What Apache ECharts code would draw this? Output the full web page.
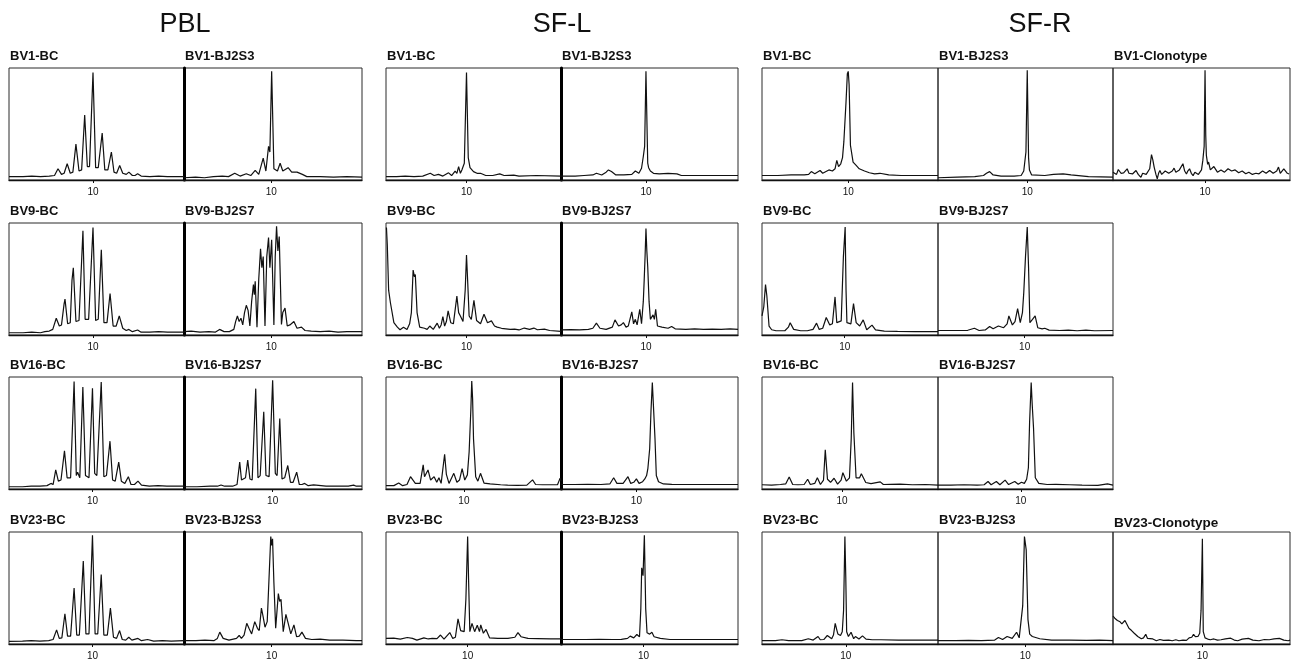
<!DOCTYPE html>
<html><head><meta charset="utf-8">
<script src="https://cdn.jsdelivr.net/npm/echarts@6/dist/echarts.min.js"></script>
<style>html,body{margin:0;padding:0;background:#fff}#c{width:1297px;height:666px}</style>
</head><body><div id="c"></div>
<script>
// ---------- DATA (x: CDR3 length units, y: % of panel height) ----------
const groupTitles = ['PBL', 'SF-L', 'SF-R'];
const labelsBC = ['BV1-BC', 'BV9-BC', 'BV16-BC', 'BV23-BC'];
const labelsBJ = ['BV1-BJ2S3', 'BV9-BJ2S7', 'BV16-BJ2S7', 'BV23-BJ2S3'];
const labelsClono = ['BV1-Clonotype', 'BV23-Clonotype'];
const tickValues = [10];
const tickLabels = ['10'];

// Row 1 (BV1)
const PBL_BV1_BC = [[0.4,3],[2,3],[3,3.5],[4,3],[5,3.5],[5.6,4],[6,10],[6.4,5],[6.7,6],[7.05,14.5],[7.4,6],[7.7,7],[8.05,32],[8.4,8],[8.7,9],[9.05,58],[9.35,12],[9.6,12],[10.0,96],[10.3,11],[10.6,11],[11.05,42],[11.35,9],[11.7,9],[12.1,25],[12.4,7],[12.7,6],[13.05,13],[13.4,6],[13.8,5],[14.1,7],[14.5,4],[14.8,4],[15.1,5.5],[15.5,3.5],[16.5,3],[17.5,3.5],[18.5,3],[20.4,3]];
const PBL_BV1_BJ = [[0.2,2],[1.5,2.5],[2.5,2],[3.5,3],[4.5,3.5],[5.2,3],[5.9,6],[6.5,3.5],[7.2,5.6],[7.7,4],[8.2,8.6],[8.6,5],[9.1,19.5],[9.4,8],[9.7,30],[9.85,25],[10.05,97],[10.3,10],[10.5,9],[10.7,8],[11.0,15],[11.3,8],[11.9,11],[12.3,7],[12.9,7],[13.5,5],[14.0,3],[15.5,3],[17,2.5],[18.5,3],[20.2,2.5]];
const SFL_BV1_BC = [[0.8,3],[2,3],[3,3.5],[4,3],[5,3.5],[5.86,6],[6.3,4],[6.8,5],[7.3,3.5],[7.95,6.4],[8.3,4],[8.7,8],[8.9,6],[9.1,12],[9.3,6],[9.47,9],[9.75,15],[10.0,96],[10.2,20],[10.4,11],[10.8,7.5],[11.2,6],[11.6,6],[12.2,4],[13,4],[13.8,5.5],[14.3,4],[15.4,4.4],[16,3.5],[18,4],[20.8,3.5]];
const SFL_BV1_BJ = [[0.4,3.5],[2,3.5],[3,4],[4,4.5],[4.4,6],[5,4.5],[5.5,7],[5.76,9],[6.1,7.5],[6.6,4.5],[7.5,4.5],[8.4,5],[8.8,8],[9.2,6],[9.5,10.5],[9.7,21],[9.85,30],[10.0,97],[10.2,15],[10.3,11],[10.5,8],[10.85,6],[11.5,5.5],[12.5,6],[13.5,5.5],[14,4],[20.4,4]];
const SFR_BV1_BC = [[0.2,4],[2,4],[3.5,4.5],[5,4.5],[5.5,5],[5.8,7.5],[6.2,5.5],[6.8,8.5],[7.1,6],[7.8,9],[8.2,8],[8.5,10],[8.7,17.5],[8.9,12],[9.15,14.5],[9.35,20],[9.5,34],[9.75,70],[9.9,95],[10.0,97],[10.1,85],[10.25,31],[10.55,16],[10.9,13],[11.25,10],[11.85,8],[12.4,6.5],[13,5.5],[13.6,6],[14.6,4.5],[16,4],[18,4],[20.2,4]];
const SFR_BV1_BJ = [[-0.2,2],[2,2.5],[4,3],[5,4],[5.34,6],[5.7,7.5],[6.1,4.5],[7,3.5],[8.5,3.5],[9.3,4],[9.6,8],[9.85,25],[10.0,98],[10.15,20],[10.25,9],[10.5,4.5],[12,4],[13,5],[14.1,5.5],[15,4.5],[17,3],[19.8,2.5]];
const SFR_BV1_CLONO = [[-0.4,7],[-0.2,7],[0.0,5],[0.2,9.4],[0.5,6],[0.8,6.3],[1.0,8],[1.2,10],[1.4,6],[1.6,7.5],[1.8,5.4],[2.0,7],[2.2,8.5],[2.45,5],[2.75,2.4],[2.95,6],[3.15,7],[3.35,5],[3.55,3.9],[3.75,10],[3.95,22.7],[4.1,18],[4.25,11.5],[4.45,5],[4.6,1],[4.75,6],[4.9,8.5],[5.1,5],[5.3,4.5],[5.5,8],[5.7,9.4],[5.9,6],[6.1,5.4],[6.3,8],[6.5,10.6],[6.7,7],[6.9,7],[7.1,9],[7.3,8],[7.5,14.5],[7.7,8],[7.9,5.4],[8.05,8],[8.25,10],[8.45,6],[8.65,3.9],[8.85,7],[9.05,7.6],[9.25,5],[9.45,5.4],[9.6,9],[9.75,17.5],[9.9,30],[10.0,98],[10.08,40],[10.15,22],[10.3,14],[10.4,16],[10.6,9],[10.8,8.5],[11.0,12],[11.2,11.5],[11.4,7],[11.6,5.4],[11.8,9],[12.0,10.6],[12.2,7],[12.4,7],[12.6,10],[12.8,11.5],[13.0,8],[13.2,7.6],[13.4,9],[13.6,10],[13.8,6.5],[14.0,5.4],[14.2,8],[14.4,8.5],[14.6,5.5],[14.75,4.5],[14.95,7],[15.15,7],[15.35,5],[15.55,3.9],[15.75,6],[15.95,7.6],[16.1,5.5],[16.3,5.4],[16.5,8],[16.7,9.4],[16.9,6],[17.1,6.3],[17.3,8.5],[17.5,8.5],[17.7,6],[17.9,5.4],[18.1,8],[18.3,11.5],[18.5,6],[18.7,7],[18.9,10],[19.1,10.6],[19.3,6],[19.5,5.4]];

// Row 2 (BV9)
const PBL_BV9_BC = [[0.4,2],[2,2],[3,2.5],[4,2],[4.5,3],[5,3.5],[5.4,5],[5.8,15],[6.15,8],[6.4,9],[6.7,28],[6.8,32],[7.1,10],[7.4,11],[7.6,49],[7.75,60],[8.05,12],[8.4,13],[8.85,93],[9.1,14],[9.5,14],[10.0,96],[10.3,13],[10.6,14],[10.95,76],[11.25,11],[11.6,11],[11.95,37],[12.3,8],[12.65,8],[13.0,17],[13.4,6],[13.8,4],[14.1,5],[14.5,3],[15.1,4.5],[15.5,2.5],[16.5,2.5],[17.5,3],[18.5,2.5],[20.4,2.5]];
const PBL_BV9_BJ = [[0.2,3],[1,3.5],[2,2.5],[3,3],[3.7,2.5],[4.2,5],[4.7,3],[5.3,3],[5.8,5],[6.0,12],[6.2,17],[6.4,12],[6.6,15],[6.8,9],[7.0,20],[7.2,26.5],[7.4,22],[7.6,8],[7.8,30],[8.0,45],[8.1,36],[8.2,48],[8.4,7],[8.6,50],[8.8,77],[8.95,60],[9.1,70],[9.3,8],[9.5,70],[9.7,87],[9.85,60],[10.05,85],[10.3,9],[10.45,70],[10.6,97],[10.75,75],[10.9,88],[11.15,9.5],[11.3,20],[11.55,24],[11.8,8],[12.1,9],[12.55,12],[12.9,6],[13.4,7],[13.8,4],[14.5,3.5],[15.5,3],[16.5,3.5],[17.5,2.5],[18.5,3],[20.2,3]];
const SFL_BV9_BC = [[0.85,96],[0.95,80],[1.1,40],[1.3,29],[1.7,11],[2.1,7],[2.4,4.7],[2.8,7],[3.2,5],[3.5,10],[3.7,20],[3.9,58],[4.05,52],[4.15,54],[4.35,20],[4.65,7],[5.2,6],[5.5,5],[5.8,8],[6.2,5],[6.65,10.6],[6.9,6],[7.1,9],[7.3,16.5],[7.5,8],[7.7,12],[7.9,21.5],[8.2,11],[8.5,10],[8.9,34.7],[9.1,20],[9.3,17],[9.6,12],[9.85,40],[10.0,71.5],[10.15,45],[10.3,17],[10.55,14],[10.85,31],[11.15,13],[11.6,10],[12.0,18.5],[12.4,11],[12.85,12.6],[13.2,8],[13.5,7],[14,6],[15,5],[15.5,5.3],[16,4.5],[16.6,6.2],[17.2,5],[17.7,6.2],[18.1,4.7],[18.9,5.3],[19.5,4],[20.8,3.2]];
const SFL_BV9_BJ = [[0.4,4.5],[1.5,4.8],[2.5,4.5],[3.5,5],[4.0,6],[4.4,10.6],[4.8,6],[5.5,5],[6.2,7],[6.5,13.5],[6.9,8],[7.2,9],[7.45,11],[7.75,7],[8.0,8],[8.4,20.6],[8.6,10],[8.8,14],[9.0,9],[9.3,23],[9.5,10],[9.7,30],[9.8,49],[9.9,70],[10.0,95],[10.1,75],[10.2,61],[10.35,30],[10.5,14],[10.8,18],[10.95,14],[11.1,23],[11.3,8],[11.8,7],[12.5,6],[12.9,7.6],[13.3,5.5],[14.5,5],[15.5,5.5],[16.5,5],[17.5,5.3],[18.5,5],[19.5,5.5],[20.4,5]];
const SFR_BV9_BC = [[0.6,17],[0.8,25],[1.0,45],[1.15,35],[1.4,8],[1.7,4.7],[2.2,3.8],[3.2,3.8],[3.6,7],[3.8,11],[4.2,5],[5,3.8],[5.75,3.8],[6.4,5],[6.8,10.6],[7.1,5],[7.5,6],[7.9,15.6],[8.3,9],[8.6,10],[8.9,34],[9.1,11],[9.6,12.6],[9.85,70],[10.05,96.5],[10.15,40],[10.25,11],[10.7,10],[11.0,28],[11.3,11],[11.7,8],[12.1,13.5],[12.5,4.7],[13.1,8.8],[13.5,4.5],[14.5,3.5],[16,3.2],[18,3],[20.6,3]];
const SFR_BV9_BJ = [[0.1,4],[2,4],[3.5,4.2],[4.26,6],[4.8,4],[5.5,4.5],[6.0,7.6],[6.4,5.5],[7.0,8],[7.6,6.5],[8.0,10],[8.2,17],[8.6,9],[8.9,12],[9.2,23.5],[9.5,11],[9.75,20],[9.9,37.6],[10.1,70],[10.3,96.5],[10.45,60],[10.6,11],[10.9,14],[11.2,17],[11.5,6.5],[12.0,5.5],[12.3,6],[12.8,4.4],[14,4],[15,4.4],[16,3.8],[17,4.4],[18,3.8],[20.1,4]];

// Row 3 (BV16)
const PBL_BV16_BC = [[0.46,2],[2,2],[3,2.5],[4,2.5],[4.8,3],[5.25,5],[5.5,4],[5.8,17],[6.1,7],[6.4,8],[6.8,34],[7.1,10],[7.5,10],[7.9,96],[8.15,12],[8.3,15],[8.55,10],[8.9,91],[9.2,12],[9.6,10],[10.0,90],[10.25,14],[10.5,12],[11.0,95.5],[11.3,11],[11.6,12],[12.0,42.7],[12.3,8],[12.6,7],[13.0,24],[13.3,7],[13.7,5],[14.1,11],[14.4,4],[14.8,4],[15.2,7],[15.6,3.5],[16.5,2.5],[17.5,3],[18.5,2.5],[20.46,2.5]];
const PBL_BV16_BJ = [[0.04,2],[1.5,2],[3,2.5],[3.8,2.5],[4.2,3.6],[4.6,2.5],[5.5,2.5],[6.0,4],[6.3,24],[6.5,8],[6.7,7],[6.95,10],[7.2,25.8],[7.45,9],[7.7,8],[8.1,89.6],[8.35,10],[8.6,12],[9.0,69],[9.25,12],[9.6,11],[10.0,97],[10.3,14],[10.5,12],[10.8,63],[11.05,9],[11.35,10],[11.7,21],[12.0,6],[12.3,6],[12.7,15],[13.0,4],[13.3,4],[13.6,5],[14.0,3],[14.6,3.6],[16,2.5],[17.5,2.5],[18.5,2.5],[19.1,3.5],[19.4,2.5],[20.04,2.5]];
const SFL_BV16_BC = [[1.1,3],[2,3],[2.55,5.3],[3,3],[3.5,4],[3.9,11],[4.45,5],[5,5],[5.35,21.5],[5.5,11],[5.9,17],[6.2,8],[6.6,11],[6.9,6],[7.15,10],[7.4,5],[7.8,31],[8.0,13],[8.3,5],[8.85,14],[9.2,6],[9.5,8],[9.8,18.2],[10.1,8],[10.4,12.6],[10.6,33],[10.8,71.5],[10.9,96.5],[11.0,80],[11.1,45],[11.35,11],[11.6,7],[11.9,14],[12.3,5.3],[13,4.5],[14.2,3.8],[15,3.5],[16.1,3.2],[17.2,3.5],[17.85,8.2],[18.2,4],[19,3.8],[20.7,3.8],[21.0,9.7],[21.1,7]];
const SFL_BV16_BJ = [[1.48,4],[3,4],[4.5,4.2],[6,4],[7,4.5],[7.43,10],[7.8,5],[8.5,5],[9.05,11],[9.36,5],[9.7,6],[10.0,9],[10.3,5],[10.7,6.5],[10.95,9],[11.15,12],[11.3,18.5],[11.5,36],[11.65,70],[11.8,95],[11.95,70],[12.1,45],[12.25,12],[12.5,6.5],[13.05,4.5],[14,4.2],[16,4],[18,4],[20,4],[21.48,4]];
const SFR_BV16_BC = [[0.91,3.8],[2,3.5],[3,4],[3.6,4.5],[4.0,10.8],[4.4,4],[5,3.8],[5.7,4],[6.1,8.7],[6.4,4],[6.9,5],[7.2,10],[7.55,4],[7.9,8],[8.1,35],[8.35,8.7],[8.7,6],[9.1,9.6],[9.5,4.4],[9.9,8],[10.1,14.6],[10.5,7],[10.85,10],[11.05,45],[11.2,95],[11.35,50],[11.6,10],[12.0,10],[12.2,13.7],[12.7,5.8],[13.3,4.8],[14.35,6.4],[14.7,4],[15.5,4.2],[16.6,4.4],[18,3.8],[19.5,4],[20.91,3.5]];
const SFR_BV16_BJ = [[0.53,3.5],[2,3.5],[3.5,3.8],[5,3.5],[5.8,3.8],[6.25,6.7],[6.6,3.8],[7.2,6.7],[7.6,3.8],[8.2,7.9],[8.6,4],[9.3,6.7],[9.7,4.2],[10.07,6],[10.4,5],[10.66,8.7],[10.86,19],[11.0,60],[11.18,95],[11.3,75],[11.45,54],[11.65,10],[12.05,5],[13,4],[14,4.2],[15.6,3.8],[17,3.5],[18.8,3.2],[19.9,4.5],[20.53,3.5]];

// Row 4 (BV23)
const PBL_BV23_BC = [[0.46,2.4],[2,2.5],[3,3],[4,2.5],[5,3],[5.5,4],[5.9,12.6],[6.2,5],[6.5,5.5],[6.85,27],[7.15,7],[7.5,7],[7.9,50],[8.2,8],[8.5,8],[8.95,74],[9.25,9],[9.6,9],[10.0,97],[10.3,9],[10.6,9],[11.0,62],[11.3,8],[11.7,8],[12.05,32],[12.4,6],[12.75,5],[13.1,12],[13.4,4],[13.8,3.5],[14.15,6],[14.5,3.5],[15.2,5],[15.6,3],[16.3,4],[17,2.5],[18,3],[19,2.5],[20.46,3]];
const PBL_BV23_BJ = [[0.15,3],[1.5,3],[2.5,3.5],[3.5,3],[3.9,5],[4.17,10.6],[4.55,5],[5.2,3.5],[6.05,5],[6.35,7.6],[6.6,5],[6.9,8],[7.2,18.5],[7.45,14],[7.75,9],[8.1,20],[8.4,14],[8.6,12],[8.85,32],[9.05,24],[9.25,15],[9.5,20],[9.7,58],[9.9,96],[10.0,88],[10.1,94],[10.25,55],[10.45,14],[10.75,45],[10.9,38],[11.05,40],[11.3,11],[11.6,26.5],[11.9,17],[12.15,9],[12.5,17],[12.8,6.5],[13.1,7],[13.4,10.6],[13.8,5],[14.5,4],[15.45,4.4],[16.5,3.5],[18,3.5],[19.5,3],[20.15,3]];
const SFL_BV23_BC = [[0.67,5],[1.55,5.3],[2.3,4.4],[3.1,5.8],[3.7,5],[4.2,3.5],[5.0,5.5],[5.5,4.5],[5.97,5],[6.5,4.8],[6.9,8],[7.3,4.4],[7.96,10.2],[8.3,5],[8.6,6],[8.9,22.5],[9.2,12],[9.6,11],[9.8,40],[10.0,96],[10.1,60],[10.25,11],[10.5,18.4],[10.8,11],[11.1,16.7],[11.35,11],[11.5,17],[11.8,9.6],[12.1,13],[12.5,5.5],[13.45,5],[14.6,5],[15.4,6],[15.75,10.2],[16.1,6.5],[16.9,5],[18,4.8],[19.5,4.5],[20.67,4.5]];
const SFL_BV23_BJ = [[0.68,4],[2,4],[3.5,4],[5,4.2],[6.5,4],[7.5,4.2],[8.2,5],[8.5,7],[8.9,5.5],[9.25,8.5],[9.55,6.5],[9.7,31.6],[9.8,68],[9.95,61],[10.1,97],[10.25,31.6],[10.4,10],[10.7,8.8],[10.95,10.5],[11.2,6.5],[11.9,5],[13.0,4],[15,4],[17,4],[19,4],[20.68,4]];
const SFR_BV23_BC = [[0.48,3],[2,3],[2.75,3.8],[3.5,3],[5,3],[5.74,4.7],[6.3,3.5],[6.85,6.7],[7.1,3.8],[7.5,4],[7.9,7.6],[8.4,4.7],[8.6,8],[8.8,18.4],[9.0,12],[9.1,9],[9.4,7.6],[9.6,11],[9.75,30],[9.9,96],[10.0,60],[10.1,11],[10.3,6.7],[10.6,10.5],[10.9,4.7],[11.1,6.7],[11.5,4.5],[11.9,7.3],[12.3,4.4],[13,3.8],[14,3.8],[16,3.5],[18,3.5],[20.48,3.5]];
const SFR_BV23_BJ = [[0.02,3],[2,3],[3.5,3.2],[5,3],[6.5,3.5],[6.93,5.8],[7.4,4],[7.92,6.7],[8.5,5],[9.0,10.5],[9.3,5.5],[9.5,19.8],[9.7,34],[9.9,96],[10.1,84],[10.3,22],[10.5,8.8],[10.8,6.7],[11.65,4.7],[13,3.5],[15,3.5],[17,3.2],[18.5,3.5],[20.02,3]];
const SFR_BV23_CLONO = [[-0.1,25],[0.1,23],[0.4,21],[0.7,19.8],[0.9,18],[1.1,17.5],[1.25,21],[1.4,19.8],[1.7,14],[2.0,12],[2.3,9.6],[2.5,10.5],[2.7,6.7],[2.9,7],[3.1,4.7],[3.35,5.5],[3.6,8.7],[3.8,5],[4.0,3.8],[4.4,4.5],[4.8,2.9],[5.2,4],[5.6,3.2],[6.2,3.5],[6.6,2.9],[7.0,3.8],[7.35,2.9],[7.8,3.5],[8.2,3.2],[8.5,5.5],[8.8,6],[9.0,8.7],[9.2,6.5],[9.5,6.7],[9.7,9.6],[9.85,30],[10.0,94],[10.1,11],[10.3,5.5],[10.6,4.4],[10.9,3.8],[11.3,4.5],[11.7,3.5],[12.1,3.8],[12.6,4.5],[13.2,5.2],[13.6,3.5],[14.0,2.9],[14.5,4.4],[15.2,5],[15.7,3.5],[16.4,2.9],[17.0,4],[17.55,3.8],[18.1,4.5],[18.7,5],[19.2,3.5],[19.7,2.9],[19.9,3.5]];

// ---------- LAYOUT ----------
const COLS = [[9,175],[184,178],[386,175],[561,177],[762,176],[938,175],[1113,177]];
const ROW_TOPS = [68,223,377,532];
const PANEL_H = 112;
const SPAN = 20;
const TITLE_X = [185, 562, 1040];

const panels = [
  {r:0,c:0,label:labelsBC[0],data:PBL_BV1_BC,xMin:0.4,thick:false},
  {r:0,c:1,label:labelsBJ[0],data:PBL_BV1_BJ,xMin:0.2,thick:true},
  {r:0,c:2,label:labelsBC[0],data:SFL_BV1_BC,xMin:0.8,thick:false},
  {r:0,c:3,label:labelsBJ[0],data:SFL_BV1_BJ,xMin:0.4,thick:true},
  {r:0,c:4,label:labelsBC[0],data:SFR_BV1_BC,xMin:0.2,thick:false},
  {r:0,c:5,label:labelsBJ[0],data:SFR_BV1_BJ,xMin:-0.2,thick:false},
  {r:0,c:6,label:labelsClono[0],data:SFR_BV1_CLONO,xMin:-0.4,thick:false},
  {r:1,c:0,label:labelsBC[1],data:PBL_BV9_BC,xMin:0.4,thick:false},
  {r:1,c:1,label:labelsBJ[1],data:PBL_BV9_BJ,xMin:0.2,thick:true},
  {r:1,c:2,label:labelsBC[1],data:SFL_BV9_BC,xMin:0.8,thick:false},
  {r:1,c:3,label:labelsBJ[1],data:SFL_BV9_BJ,xMin:0.4,thick:true},
  {r:1,c:4,label:labelsBC[1],data:SFR_BV9_BC,xMin:0.6,thick:false},
  {r:1,c:5,label:labelsBJ[1],data:SFR_BV9_BJ,xMin:0.1,thick:false},
  {r:2,c:0,label:labelsBC[2],data:PBL_BV16_BC,xMin:0.46,thick:false},
  {r:2,c:1,label:labelsBJ[2],data:PBL_BV16_BJ,xMin:0.04,thick:true},
  {r:2,c:2,label:labelsBC[2],data:SFL_BV16_BC,xMin:1.1,thick:false},
  {r:2,c:3,label:labelsBJ[2],data:SFL_BV16_BJ,xMin:1.48,thick:true},
  {r:2,c:4,label:labelsBC[2],data:SFR_BV16_BC,xMin:0.91,thick:false},
  {r:2,c:5,label:labelsBJ[2],data:SFR_BV16_BJ,xMin:0.53,thick:false},
  {r:3,c:0,label:labelsBC[3],data:PBL_BV23_BC,xMin:0.46,thick:false},
  {r:3,c:1,label:labelsBJ[3],data:PBL_BV23_BJ,xMin:0.15,thick:true},
  {r:3,c:2,label:labelsBC[3],data:SFL_BV23_BC,xMin:0.67,thick:false},
  {r:3,c:3,label:labelsBJ[3],data:SFL_BV23_BJ,xMin:0.68,thick:true},
  {r:3,c:4,label:labelsBC[3],data:SFR_BV23_BC,xMin:0.48,thick:false},
  {r:3,c:5,label:labelsBJ[3],data:SFR_BV23_BJ,xMin:0.02,thick:false},
  {r:3,c:6,label:labelsClono[1],data:SFR_BV23_CLONO,xMin:-0.1,thick:false}
];

const FONT = '"Liberation Sans", Arial, Helvetica, sans-serif';
const grid = [], xAxis = [], yAxis = [], series = [], graphic = [];

panels.forEach((p, i) => {
  const [left, width] = COLS[p.c];
  const top = ROW_TOPS[p.r];
  grid.push({left, top, width, height: PANEL_H, show: true, borderColor: '#2a2a2a', borderWidth: 1, containLabel: false});
  xAxis.push({
    gridIndex: i, type: 'value', min: p.xMin, max: p.xMin + SPAN,
    axisLine: {show: true, onZero: false, lineStyle: {color: '#111', width: 1.4}},
    axisTick: {show: true, customValues: tickValues, length: 3, lineStyle: {color: '#111'}},
    axisLabel: {show: true, customValues: tickValues, formatter: v => tickLabels[tickValues.indexOf(v)] ?? String(v),
      fontSize: 10, color: '#111', margin: 7, fontFamily: FONT},
    splitLine: {show: false}
  });
  yAxis.push({
    gridIndex: i, type: 'value', min: 0, max: 100,
    axisLine: {show: p.thick, onZero: false, lineStyle: {color: '#000', width: 3}},
    axisTick: {show: false}, axisLabel: {show: false}, splitLine: {show: false}
  });
  series.push({
    type: 'line', xAxisIndex: i, yAxisIndex: i, data: p.data, showSymbol: false, symbol: 'none',
    lineStyle: {color: '#111', width: 1.2}, clip: true, silent: true
  });
  const isClono23 = p.label === labelsClono[1];
  graphic.push({
    type: 'text', x: left + 1, y: top - (isClono23 ? 9 : 12),
    style: {text: p.label, font: 'bold ' + (isClono23 ? 13.5 : 13) + 'px ' + FONT, fill: '#111',
      textAlign: 'left', textVerticalAlign: 'middle'}
  });
});

groupTitles.forEach((t, k) => {
  graphic.push({type: 'text', x: TITLE_X[k], y: 25,
    style: {text: t, font: 'normal 27px ' + FONT, fill: '#111', textAlign: 'center', textVerticalAlign: 'middle'}});
});

const chart = echarts.init(document.getElementById('c'), null, {renderer: 'canvas'});
chart.setOption({animation: false, backgroundColor: '#fff', grid, xAxis, yAxis, series, graphic});
</script>
</body></html>
